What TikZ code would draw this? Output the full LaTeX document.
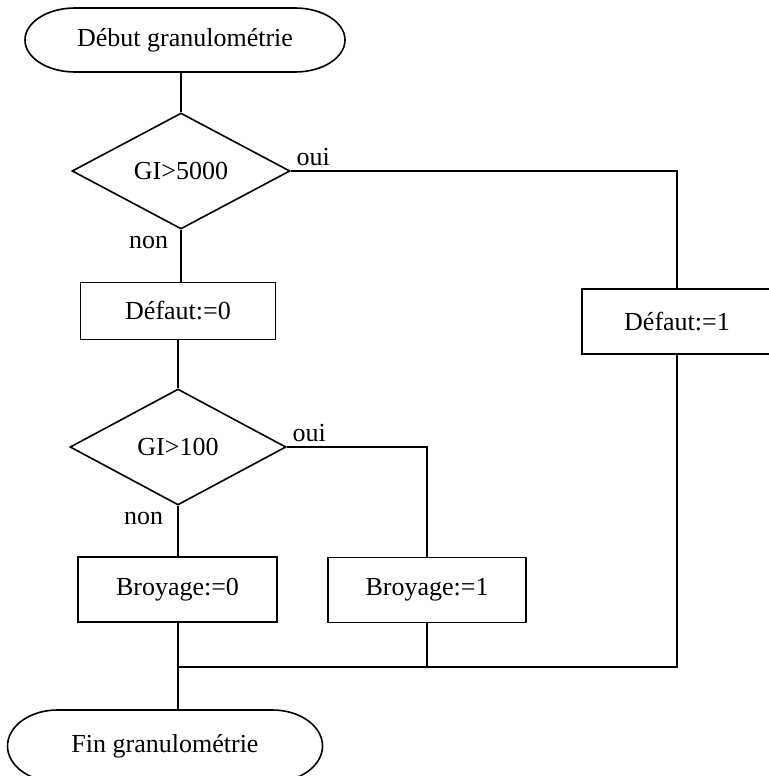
\documentclass[tikz,border=0pt]{standalone}
\usepackage{fontspec}
\setmainfont{Liberation Serif}
\usetikzlibrary{shapes.geometric}
\begin{document}
\begin{tikzpicture}[x=1pt,y=-1pt,
  every node/.style={font=\fontsize{26}{30}\selectfont, line width=1.6pt},
  term/.style={rectangle, inner sep=0pt, outer sep=0pt},
  decision/.style={draw, diamond, inner sep=0pt, aspect=1.9},
  proc/.style={draw, rectangle, inner sep=0pt},
  lab/.style={inner sep=0pt},
  conn/.style={line width=1.6pt}]
\useasboundingbox[fill=white] (0,0) rectangle (768,776);

\node[term, minimum width=320pt, minimum height=64pt] (start) at (185,40) {Début granulométrie};
\node[decision, minimum width=218pt, minimum height=116pt] (d1) at (181,171) {GI>5000};
\node[proc, minimum width=195pt, minimum height=57pt] (def0) at (178,311) {Défaut:=0};
\node[proc, minimum width=190pt, minimum height=65pt] (def1) at (677,321.5) {Défaut:=1};
\node[decision, minimum width=216pt, minimum height=116pt] (d2) at (178,447) {GI>100};
\node[proc, minimum width=199pt, minimum height=65pt] (br0) at (177.5,589.5) {Broyage:=0};
\node[proc, minimum width=198pt, minimum height=65pt] (br1) at (427,590) {Broyage:=1};
\node[term, minimum width=315pt, minimum height=72pt] (fin) at (165,746) {Fin granulométrie};

% terminator outlines with elliptical ends
\draw[conn] ([xshift=50pt]start.north west) -- ([xshift=-50pt]start.north east)
  arc[start angle=90, end angle=-90, x radius=50pt, y radius=32pt]
  -- ([xshift=50pt]start.south west)
  arc[start angle=270, end angle=90, x radius=50pt, y radius=32pt] -- cycle;
\draw[conn] ([xshift=50pt]fin.north west) -- ([xshift=-50pt]fin.north east)
  arc[start angle=90, end angle=-90, x radius=50pt, y radius=36pt]
  -- ([xshift=50pt]fin.south west)
  arc[start angle=270, end angle=90, x radius=50pt, y radius=36pt] -- cycle;

\node[lab, anchor=south west] (oui1) at ([xshift=5pt,yshift=4pt]d1.east) {oui};
\node[lab, anchor=north east] (non1) at ([xshift=-12pt,yshift=-6pt]d1.south) {non};
\node[lab, anchor=south west] (oui2) at ([xshift=5pt,yshift=4pt]d2.east) {oui};
\node[lab, anchor=north east] (non2) at ([xshift=-14pt,yshift=-6pt]d2.south) {non};

\coordinate (c1) at (def1.north |- d1.east);
\coordinate (c2) at (br1.north |- d2.east);
\coordinate (j0) at (d2.south |- 0,667);
\coordinate (j1) at (br1.south |- 0,667);
\coordinate (j2) at (def1.south |- 0,667);

\draw[conn] (d1.north |- start.south) -- (d1.north);
\draw[conn] (d1.east) -- (c1) -- (def1.north);
\draw[conn] (d1.south) -- (def0.north -| d1.south);
\draw[conn] (def0.south -| d2.north) -- (d2.north);
\draw[conn] (d2.east) -- (c2) -- (br1.north);
\draw[conn] (d2.south) -- (br0.north -| d2.south);
\draw[conn] (br0.south -| j0) -- (j0);
\draw[conn] (br1.south) -- (j1);
\draw[conn] (def1.south) -- (j2) -- (j0);
\draw[conn] (j0) -- (j0 |- fin.north);
\end{tikzpicture}
\end{document}
